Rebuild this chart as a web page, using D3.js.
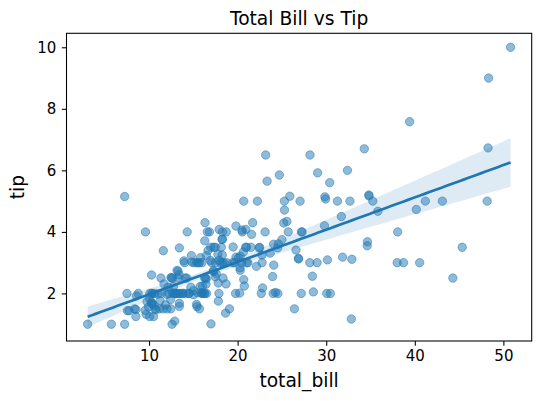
<!DOCTYPE html>
<html>
<head>
<meta charset="utf-8">
<script src="https://cdn.jsdelivr.net/npm/d3@7"></script>
<style>
  body { margin: 0; background: #fff; }
  text { font-family: "DejaVu Sans", sans-serif; fill: #000; }
  .tick text { font-size: 15px; }
</style>
</head>
<body>
<div id="chart"></div>
<script>
// tips dataset: total_bill and tip
var totalBill = [16.99,10.34,21.01,23.68,24.59,25.29,8.77,26.88,15.04,14.78,10.27,35.26,15.42,18.43,14.83,21.58,10.33,16.29,16.97,20.65,
  17.92,20.29,15.77,39.42,19.82,17.81,13.37,12.69,21.7,19.65,9.55,18.35,15.06,20.69,17.78,24.06,16.31,16.93,18.69,31.27,
  16.04,17.46,13.94,9.68,30.4,18.29,22.23,32.4,28.55,18.04,12.54,10.29,34.81,9.94,25.56,19.49,38.01,26.41,11.24,48.27,
  20.29,13.81,11.02,18.29,17.59,20.08,16.45,3.07,20.23,15.01,12.02,17.07,26.86,25.28,14.73,10.51,17.92,27.2,22.76,17.29,
  19.44,16.66,10.07,32.68,15.98,34.83,13.03,18.28,24.71,21.16,28.97,22.49,5.75,16.32,22.75,40.17,27.28,12.03,21.01,12.46,
  11.35,15.38,44.3,22.42,20.92,15.36,20.49,25.21,18.24,14.31,14.0,7.25,38.07,23.95,25.71,17.31,29.93,10.65,12.43,24.08,
  11.69,13.42,14.26,15.95,12.48,29.8,8.52,14.52,11.38,22.82,19.08,20.27,11.17,12.26,18.26,8.51,10.33,14.15,16.0,13.16,
  17.47,34.3,41.19,27.05,16.43,8.35,18.64,11.87,9.78,7.51,14.07,13.13,17.26,24.55,19.77,29.85,48.17,25.0,13.39,16.49,
  21.5,12.66,16.21,13.81,17.51,24.52,20.76,31.71,10.59,10.63,50.81,15.81,7.25,31.85,16.82,32.9,17.89,14.48,9.6,34.63,
  34.65,23.33,45.35,23.17,40.55,20.69,20.9,30.46,18.15,23.1,15.69,19.81,28.44,15.48,16.58,7.56,10.34,43.11,13.0,13.51,
  18.71,12.74,13.0,16.4,20.53,16.47,26.59,38.73,24.27,12.76,30.06,25.89,48.33,13.27,28.17,12.9,28.15,11.59,7.74,30.14,
  12.16,13.42,8.58,15.98,13.42,16.27,10.09,20.45,13.28,22.12,24.01,15.69,11.61,10.77,15.53,10.07,12.6,32.83,35.83,29.03,
  27.18,22.67,17.82,18.78];
var tip = [1.01,1.66,3.5,3.31,3.61,4.71,2.0,3.12,1.96,3.23,1.71,5.0,1.57,3.0,3.02,3.92,1.67,3.71,3.5,3.35,
  4.08,2.75,2.23,7.58,3.18,2.34,2.0,2.0,4.3,3.0,1.45,2.5,3.0,2.45,3.27,3.6,2.0,3.07,2.31,5.0,
  2.24,2.54,3.06,1.32,5.6,3.0,5.0,6.0,2.05,3.0,2.5,2.6,5.2,1.56,4.34,3.51,3.0,1.5,1.76,6.73,
  3.21,2.0,1.98,3.76,2.64,3.15,2.47,1.0,2.01,2.09,1.97,3.0,3.14,5.0,2.2,1.25,3.08,4.0,3.0,2.71,
  3.0,3.4,1.83,5.0,2.03,5.17,2.0,4.0,5.85,3.0,3.0,3.5,1.0,4.3,3.25,4.73,4.0,1.5,3.0,1.5,
  2.5,3.0,2.5,3.48,4.08,1.64,4.06,4.29,3.76,4.0,3.0,1.0,4.0,2.55,4.0,3.5,5.07,1.5,1.8,2.92,
  2.31,1.68,2.5,2.0,2.52,4.2,1.48,2.0,2.0,2.18,1.5,2.83,1.5,2.0,3.25,1.25,2.0,2.0,2.0,2.75,
  3.5,6.7,5.0,5.0,2.3,1.5,1.36,1.63,1.73,2.0,2.5,2.0,2.74,2.0,2.0,5.14,5.0,3.75,2.61,2.0,
  3.5,2.5,2.0,2.0,3.0,3.48,2.24,4.5,1.61,2.0,10.0,3.16,5.15,3.18,4.0,3.11,2.0,2.0,4.0,3.55,
  3.68,5.65,3.5,6.5,3.0,5.0,3.5,2.0,3.5,4.0,1.5,4.19,2.56,2.02,4.0,1.44,2.0,5.0,2.0,2.0,
  4.0,2.01,2.0,2.5,4.0,3.23,3.41,3.0,2.03,2.23,2.0,5.16,9.0,2.5,6.5,1.1,3.0,1.5,1.44,3.09,
  2.2,3.48,1.92,3.0,1.58,2.5,2.0,3.0,2.72,2.88,2.0,3.0,3.39,1.47,3.0,1.25,1.0,1.17,4.67,5.92,
  2.0,2.0,1.75,3.0];
var xTicks = [10, 20, 30, 40, 50];
var yTicks = [2, 4, 6, 8, 10];

var width = 540, height = 401;
var plotLeft = 66.5, plotRight = 531.7, plotTop = 33.3, plotBottom = 341;
var blue = "#1f77b4";

var points = totalBill.map(function(d, i) { return { x: d, y: tip[i] }; });

// OLS fit (centered) with a robust (HC0) 95% band, close to seaborn's bootstrap band
var n = points.length;
var xbar = d3.mean(totalBill), ybar = d3.mean(tip);
var sxx = d3.sum(totalBill, function(d) { return (d - xbar) * (d - xbar); });
var sxy = d3.sum(points, function(p) { return (p.x - xbar) * (p.y - ybar); });
var slope = sxy / sxx;
var s0 = 0, s1 = 0, s2 = 0;
points.forEach(function(p) {
  var e = p.y - (ybar + slope * (p.x - xbar));
  var dx = p.x - xbar;
  s0 += e * e; s1 += dx * e * e; s2 += dx * dx * e * e;
});
var xmin = d3.min(totalBill), xmax = d3.max(totalBill);
var grid = d3.range(100).map(function(i) { return xmin + (xmax - xmin) * i / 99; });
var fit = grid.map(function(x) {
  var dx = x - xbar;
  var v = s0 / (n * n) + 2 * dx * s1 / (n * sxx) + dx * dx * s2 / (sxx * sxx);
  var yhat = ybar + slope * dx;
  var h = 1.96 * Math.sqrt(v);
  return { x: x, y: yhat, lo: yhat - h, hi: yhat + h };
});

function padded(lo, hi) { var m = (hi - lo) * 0.05; return [lo - m, hi + m]; }
var yLo = Math.min(d3.min(tip), d3.min(fit, function(d) { return d.lo; }));
var yHi = Math.max(d3.max(tip), d3.max(fit, function(d) { return d.hi; }));

var x = d3.scaleLinear().domain(padded(xmin, xmax)).range([plotLeft, plotRight]);
var y = d3.scaleLinear().domain(padded(yLo, yHi)).range([plotBottom, plotTop]);

var svg = d3.select("#chart").append("svg")
  .attr("width", width)
  .attr("height", height);

svg.append("defs").append("clipPath").attr("id", "clip")
  .append("rect").attr("x", plotLeft).attr("y", plotTop)
  .attr("width", plotRight - plotLeft).attr("height", plotBottom - plotTop);

var plot = svg.append("g").attr("clip-path", "url(#clip)");

// scatter
plot.selectAll("circle")
  .data(points)
  .enter()
  .append("circle")
  .attr("cx", function(d) { return x(d.x); })
  .attr("cy", function(d) { return y(d.y); })
  .attr("r", 4.2)
  .attr("fill", blue)
  .attr("fill-opacity", 0.5)
  .attr("stroke", blue)
  .attr("stroke-opacity", 0.5)
  .attr("stroke-width", 1);

// confidence band
plot.append("path")
  .datum(fit)
  .attr("d", d3.area()
    .x(function(d) { return x(d.x); })
    .y0(function(d) { return y(d.lo); })
    .y1(function(d) { return y(d.hi); }))
  .attr("fill", blue)
  .attr("fill-opacity", 0.15);

// regression line
plot.append("path")
  .datum(fit)
  .attr("d", d3.line()
    .x(function(d) { return x(d.x); })
    .y(function(d) { return y(d.y); }))
  .attr("fill", "none")
  .attr("stroke", blue)
  .attr("stroke-width", 2.7);

// axes
var xAxis = svg.append("g")
  .attr("transform", "translate(0," + plotBottom + ")")
  .call(d3.axisBottom(x).tickValues(xTicks).tickSize(4.7).tickPadding(4.5).tickSizeOuter(0));
var yAxis = svg.append("g")
  .attr("transform", "translate(" + plotLeft + ",0)")
  .call(d3.axisLeft(y).tickValues(yTicks).tickSize(4.7).tickPadding(5.5).tickSizeOuter(0));
[xAxis, yAxis].forEach(function(a) {
  a.attr("font-size", 15).attr("font-family", "DejaVu Sans");
  a.select(".domain").remove();
  a.selectAll("line").attr("stroke", "#000").attr("stroke-width", 1.07);
});

// frame
svg.append("rect")
  .attr("x", plotLeft).attr("y", plotTop)
  .attr("width", plotRight - plotLeft).attr("height", plotBottom - plotTop)
  .attr("fill", "none").attr("stroke", "#000").attr("stroke-width", 1.07);

svg.append("text")
  .attr("x", (plotLeft + plotRight) / 2).attr("y", 25)
  .attr("text-anchor", "middle")
  .style("font-size", "18.67px")
  .text("Total Bill vs Tip");

svg.append("text")
  .attr("x", (plotLeft + plotRight) / 2).attr("y", 386.5)
  .attr("text-anchor", "middle")
  .style("font-size", "18.67px")
  .text("total_bill");

svg.append("text")
  .attr("transform", "translate(24," + (plotTop + plotBottom) / 2 + ") rotate(-90)")
  .attr("text-anchor", "middle")
  .style("font-size", "18.67px")
  .text("tip");
</script>
</body>
</html>
